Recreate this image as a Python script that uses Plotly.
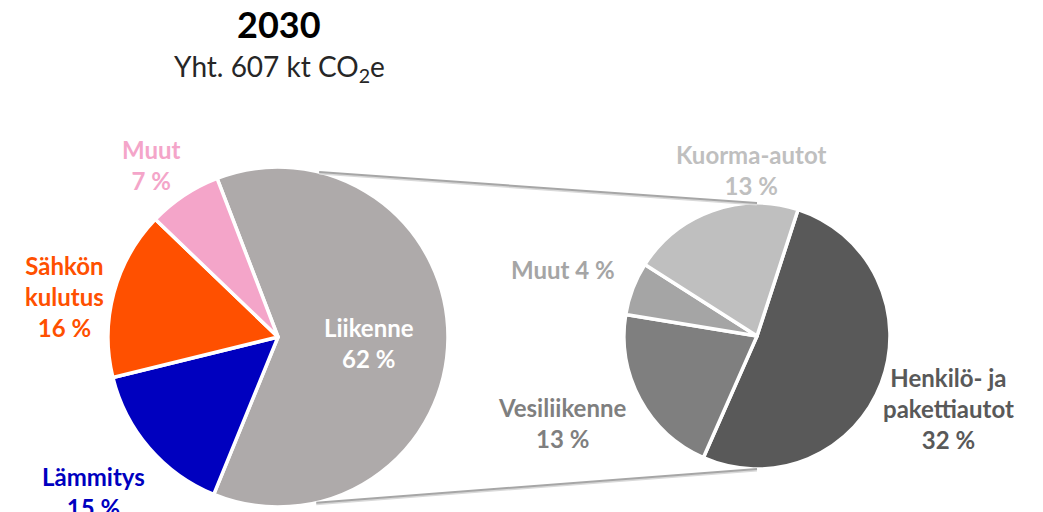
import math
import plotly.graph_objects as go

year = "2030"
total_kt = 607

main_labels = ["Liikenne", "Lämmitys", "Sähkön<br>kulutus", "Muut"]
main_values = [62, 15, 16, 7]
main_colors = ["#AEAAAA", "#0000BF", "#FF5000", "#F4A5C9"]
main_text_colors = ["#FFFFFF", "#0000BF", "#FF5000", "#F4A5C9"]

sub_labels = ["Henkilö- ja<br>pakettiautot", "Vesiliikenne", "Muut", "Kuorma-autot"]
sub_values = [32, 13, 4, 13]
sub_colors = ["#595959", "#7F7F7F", "#A5A5A5", "#BFBFBF"]

W, H = 1043, 512
FONT = "Lato"

# pie geometry in pixels (centre x, centre y, radius)
left_pie = (278, 337, 170)
right_pie = (757, 336, 133)


def px(x, y):
    return x / W, 1 - y / H


def domain(cx, cy, r):
    x0, y1 = px(cx - r, cy - r)
    x1, y0 = px(cx + r, cy + r)
    return dict(x=[x0, x1], y=[y0, y1])


def rim(pie, angle):
    # point on the rim, angle clockwise from 12 o'clock
    cx, cy, r = pie
    a = math.radians(angle)
    return cx + r * math.sin(a), cy - r * math.cos(a)


fig = go.Figure()

fig.add_trace(go.Pie(
    labels=[l.replace("<br>", " ") for l in main_labels],
    values=main_values,
    sort=False,
    direction="clockwise",
    rotation=-21,
    marker=dict(colors=main_colors, line=dict(color="white", width=3.5)),
    textinfo="none",
    domain=domain(*left_pie),
    showlegend=False,
))

fig.add_trace(go.Pie(
    labels=[l.replace("<br>", " ") for l in sub_labels],
    values=sub_values,
    sort=False,
    direction="clockwise",
    rotation=18,
    marker=dict(colors=sub_colors, line=dict(color="white", width=3.5)),
    textinfo="none",
    domain=domain(*right_pie),
    showlegend=False,
))

# connector lines between the pies
shapes = []
for a_left, a_right in [(14, 0), (167, 180)]:
    x0, y0 = rim(left_pie, a_left)
    x1, y1 = rim(right_pie, a_right)
    for off, col, w in [(1.5, "#D9D9D9", 2), (0, "#A6A6A6", 2)]:
        p0 = px(x0, y0 + off)
        p1 = px(x1, y1 + off)
        shapes.append(dict(type="line", xref="paper", yref="paper",
                           x0=p0[0], y0=p0[1], x1=p1[0], y1=p1[1],
                           line=dict(color=col, width=w)))

# label positions (centre of text block, pixels)
main_pos = [(369, 343), (93, 492), (64, 296), (151, 165)]
sub_pos = [(948, 408), (562, 423), (563, 269), (751, 170)]

annotations = []
for lab, v, col, (x, y) in zip(main_labels, main_values, main_text_colors, main_pos):
    ax, ay = px(x, y)
    annotations.append(dict(
        text=f"<b>{lab}<br>{v} %</b>", x=ax, y=ay, xref="paper", yref="paper",
        showarrow=False, xanchor="center", yanchor="middle", align="center",
        font=dict(family=FONT, size=24, color=col)))

for lab, v, col, (x, y) in zip(sub_labels, sub_values, sub_colors, sub_pos):
    ax, ay = px(x, y)
    sep = " " if lab == "Muut" else "<br>"
    annotations.append(dict(
        text=f"<b>{lab}{sep}{v} %</b>", x=ax, y=ay, xref="paper", yref="paper",
        showarrow=False, xanchor="center", yanchor="middle", align="center",
        font=dict(family=FONT, size=24, color=col)))

# title and subtitle
tx, ty = px(279, 24)
annotations.append(dict(text=f"<b>{year}</b>", x=tx, y=ty, xref="paper", yref="paper",
                        showarrow=False, xanchor="center", yanchor="middle",
                        font=dict(family=FONT, size=36, color="black")))
sx, sy = px(279, 68)
annotations.append(dict(text=f"Yht. {total_kt} kt CO<sub>2</sub>e", x=sx, y=sy,
                        xref="paper", yref="paper", showarrow=False,
                        xanchor="center", yanchor="middle",
                        font=dict(family=FONT, size=28, color="#262626")))

fig.update_layout(
    width=W, height=H,
    margin=dict(l=0, r=0, t=0, b=0),
    paper_bgcolor="white",
    plot_bgcolor="white",
    shapes=shapes,
    annotations=annotations,
)

fig.write_html("out.html", config={"displayModeBar": False},
               post_script="document.body.style.margin='0px';")
